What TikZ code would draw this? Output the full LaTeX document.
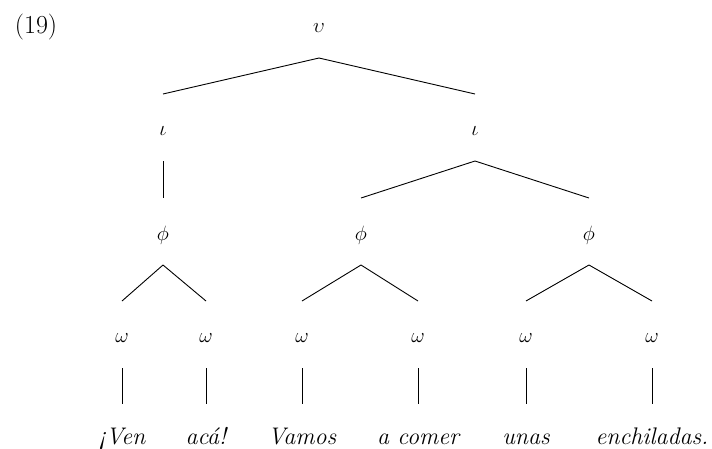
\documentclass[tikz,border=0pt]{standalone}
\begin{document}
\begin{tikzpicture}[x=1pt,y=-1pt,
  lbl/.style={inner sep=0pt,font=\fontsize{22}{26}\selectfont},
  word/.style={inner sep=0pt,anchor=base,font=\fontsize{24}{28}\selectfont\itshape},
  edge/.style={line width=0.9pt,black}]
\useasboundingbox (0,0) rectangle (712,448);
\node[inner sep=0pt,font=\fontsize{26}{30}\selectfont] (num) at (36,27) {(19)};
\node[lbl] (u) at (319,28) {$\upsilon$};
\node[lbl] (i1) at (163,131) {$\iota$};
\node[lbl] (i2) at (475,131) {$\iota$};
\node[lbl] (p1) at (163,235) {$\phi$};
\node[lbl] (p2) at (361,235) {$\phi$};
\node[lbl] (p3) at (589,235) {$\phi$};
\node[lbl] (w1) at (122,338) {$\omega$};
\node[lbl] (w2) at (206,338) {$\omega$};
\node[lbl] (w3) at (302,338) {$\omega$};
\node[lbl] (w4) at (418,338) {$\omega$};
\node[lbl] (w5) at (526,338) {$\omega$};
\node[lbl] (w6) at (652,338) {$\omega$};
\node[word] (t1) at (122,444) {¡Ven};
\node[word] (t2) at (206,444) {acá!};
\node[word] (t3) at (302,444) {Vamos};
\node[word] (t4) at (418,444) {a comer};
\node[word] (t5) at (526,444) {unas};
\node[word] (t6) at (652,444) {enchiladas.};
\foreach \a/\b in {u/i1,u/i2,i1/p1,i2/p2,i2/p3,p1/w1,p1/w2,p2/w3,p2/w4,p3/w5,p3/w6}
  \draw[edge] ([yshift=-30pt]\a.center) -- ([yshift=37pt]\b.center);
\foreach \a/\b in {w1/t1,w2/t2,w3/t3,w4/t4,w5/t5,w6/t6}
  \draw[edge] ([yshift=-30pt]\a.center) -- ([yshift=40pt]\b.base);
\end{tikzpicture}
\end{document}
